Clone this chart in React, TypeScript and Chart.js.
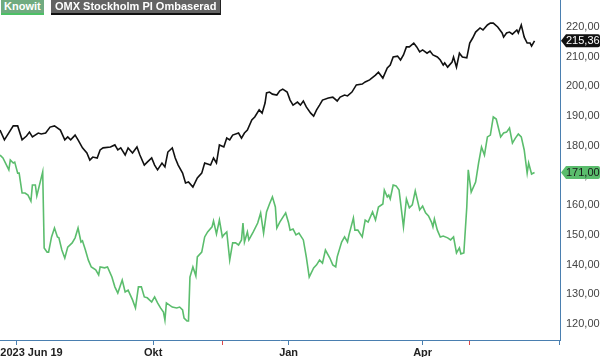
import React, { useEffect, useRef } from "react";
import { Chart, registerables } from "chart.js";

Chart.register(...registerables);

// Day offsets from 2023-06-20 (first trading day shown) and closing values
const omxDays = [0,3,9,12,15,18,20,22,26,28,31,34,37,41,44,46,48,51,53,56,59,61,63,66,68,70,75,78,80,82,85,87,90,93,95,98,100,103,105,107,110,112,114,117,119,121,124,126,128,131,134,137,139,143,145,147,149,152,154,156,158,162,164,166,168,171,173,176,178,180,181,183,185,188,190,192,195,197,199,202,204,206,208,211,213,215,217,219,223,226,229,231,234,236,239,242,246,248,251,255,257,260,263,265,267,270,272,274,276,278,281,283,285,287,290,292,294,297,299,301,302,304,307,308,310,312,314,317,319,321,323,326,328,331,333,335,338,341,342,344,346,348,351,352,354,356,358,360,361,363];
const omxValues = [185.3,182.0,186.7,186.7,182.0,183.3,184.6,183.0,184.3,184.0,184.3,186.3,186.7,185.3,182.0,183.0,182.0,183.6,182.0,179.3,177.6,175.2,176.2,175.9,178.6,179.3,179.6,180.3,178.6,179.3,176.9,179.3,177.6,179.6,176.9,173.5,174.5,175.9,173.5,171.9,174.2,172.9,177.9,179.3,175.9,173.5,170.8,167.5,167.8,166.1,169.2,170.8,174.2,173.5,175.9,174.2,180.3,179.6,182.6,182.0,183.6,184.3,182.6,184.3,185.3,188.7,189.7,192.1,191.0,194.4,197.8,198.1,197.4,197.1,198.5,199.1,198.1,195.4,193.7,194.7,193.7,195.1,193.1,191.0,190.0,192.1,193.7,195.4,196.1,196.4,195.1,196.4,197.1,196.8,198.1,200.5,200.8,201.5,202.2,203.8,204.8,202.8,206.2,207.2,209.9,210.2,208.9,210.6,213.3,213.3,214.6,213.3,211.6,212.3,211.2,211.9,210.6,209.9,208.9,207.2,207.9,206.5,208.2,209.9,206.5,211.2,209.9,209.6,214.6,216.3,218.3,219.7,219.0,220.7,221.3,221.3,220.0,218.0,216.6,218.0,218.3,217.6,219.0,218.0,220.7,216.6,214.6,214.6,213.6,215.36];

const knowitDays = [0,2,5,6,7,9,10,12,13,15,17,19,21,22,24,25,29,30,32,33,35,37,39,40,42,44,46,49,51,53,55,56,58,60,62,65,67,68,71,73,76,78,80,83,85,87,90,92,94,96,98,100,103,105,107,109,111,112,113,117,120,122,124,125,127,128,129,131,133,134,137,139,141,144,145,147,149,151,152,154,156,158,160,162,164,165,166,168,169,172,175,177,179,181,183,185,187,188,190,194,196,197,199,201,203,206,208,210,213,215,217,219,221,224,226,228,229,232,234,236,237,240,241,243,246,248,250,253,255,257,260,261,263,264,265,267,269,271,274,276,278,280,282,285,287,289,291,293,294,295,297,299,301,304,306,308,310,312,313,315,317,318,320,323,325,327,329,331,333,335,337,340,342,344,346,348,350,352,354,356,358,359,361,363];
const knowitValues = [176.9,175.9,172.9,171.9,175.2,174.2,174.5,170.8,170.8,164.1,164.1,163.4,161.4,166.8,166.8,163.1,171.2,145.6,144.2,144.2,149.3,152.3,149.3,149.0,144.9,142.2,145.9,147.3,149.0,152.3,147.6,148.0,144.9,141.5,139.2,138.2,136.5,139.2,138.9,139.2,135.8,132.5,130.4,134.8,130.8,131.4,128.1,125.4,132.5,132.5,129.1,128.8,127.4,129.1,127.1,125.4,124.0,121.3,127.1,125.7,125.4,125.7,124.7,122.0,121.0,121.0,135.8,139.2,136.2,142.6,144.2,149.3,151.0,152.7,154.7,150.3,155.0,149.3,150.0,151.0,141.5,147.3,147.3,146.6,148.3,154.0,147.6,151.0,148.3,151.0,154.0,157.4,150.6,157.7,160.4,162.8,159.4,152.3,154.3,157.4,154.0,151.6,152.0,150.0,150.6,148.3,142.6,135.8,138.9,139.9,141.5,140.5,144.9,142.2,139.9,139.2,142.6,147.6,149.3,147.6,150.0,155.7,151.6,151.6,149.3,155.0,154.3,157.7,155.0,159.4,160.4,165.1,162.8,163.4,162.1,166.8,166.5,165.1,152.7,162.1,159.1,160.1,164.8,158.4,159.7,157.4,156.4,154.3,152.7,155.4,151.6,149.3,149.6,149.0,148.3,149.3,143.9,145.6,143.6,143.9,159.4,171.9,164.4,167.8,174.2,179.6,176.9,183.0,183.6,189.7,189.0,183.0,184.3,184.6,186.0,180.9,182.6,184.0,183.0,178.6,170.8,174.2,170.5,171.0];

const seriesNames = ["Knowit", "OMX Stockholm PI Ombaserad"];
const yTickValues = [120, 130, 140, 150, 160, 170, 180, 190, 200, 210, 220];
const xTickDays = [11, 104, 151, 196, 287, 319, 380];
const xTickLabels = ["2023 Jun 19", "Okt", "", "Jan", "Apr", "", ""];
const xTickRed = [false, false, true, false, false, true, false];

const GREEN = "#5bbd6d";
const BLACK = "#111111";
const AXIS_BLUE = "#4a7fb0";
const FONT = "'Liberation Sans', Arial, sans-serif";

const fmt = (v: number) => v.toFixed(2).replace(".", ",");

const endTagPlugin = {
  id: "endTags",
  afterDraw(chart: any) {
    const ctx = chart.ctx;
    const ys = chart.scales.y;
    const left = ys.left;
    const right = chart.width;
    const styles = [
      { fill: GREEN, text: "#1b1b1b" },
      { fill: BLACK, text: "#ffffff" },
    ];
    chart.data.datasets.forEach((ds: any, i: number) => {
      const last = ds.data[ds.data.length - 1];
      const py = ys.getPixelForValue(last.y);
      const h = 13;
      ctx.save();
      ctx.beginPath();
      ctx.moveTo(left + 1, py);
      ctx.lineTo(left + 6, py - h / 2);
      ctx.lineTo(right - 2, py - h / 2);
      ctx.quadraticCurveTo(right, py - h / 2, right, py - h / 2 + 2);
      ctx.lineTo(right, py + h / 2 - 2);
      ctx.quadraticCurveTo(right, py + h / 2, right - 2, py + h / 2);
      ctx.lineTo(left + 6, py + h / 2);
      ctx.closePath();
      ctx.fillStyle = styles[i].fill;
      ctx.fill();
      ctx.fillStyle = styles[i].text;
      ctx.font = `11px ${FONT}`;
      ctx.textAlign = "left";
      ctx.textBaseline = "middle";
      ctx.fillText(fmt(last.y), left + 6, py + 0.5);
      ctx.restore();
    });
  },
};

export default function App() {
  const canvasRef = useRef<HTMLCanvasElement | null>(null);

  useEffect(() => {
    if (!canvasRef.current) return;
    const chart = new Chart(canvasRef.current, {
      type: "line",
      data: {
        datasets: [
          {
            label: seriesNames[0],
            data: knowitDays.map((d, i) => ({ x: d, y: knowitValues[i] })),
            borderColor: GREEN,
            borderWidth: 1.6,
            pointRadius: 0,
            tension: 0,
          },
          {
            label: seriesNames[1],
            data: omxDays.map((d, i) => ({ x: d, y: omxValues[i] })),
            borderColor: BLACK,
            borderWidth: 1.6,
            pointRadius: 0,
            tension: 0,
          },
        ],
      },
      options: {
        animation: false,
        responsive: false,
        maintainAspectRatio: false,
        layout: { padding: 0 },
        plugins: {
          legend: { display: false },
          tooltip: { enabled: false },
        },
        scales: {
          x: {
            type: "linear",
            min: 0,
            max: 380.3,
            afterBuildTicks: (scale: any) => {
              scale.ticks = xTickDays.map((v) => ({ value: v }));
            },
            afterFit: (scale: any) => {
              scale.height = 17;
              scale.paddingLeft = 0;
              scale.paddingRight = 0;
            },
            grid: {
              display: true,
              drawOnChartArea: false,
              drawTicks: true,
              tickLength: 5,
              tickColor: (c: any) => {
                const idx = xTickDays.indexOf(c.tick ? c.tick.value : -1);
                return idx >= 0 && xTickRed[idx] ? "#e0474c" : AXIS_BLUE;
              },
            },
            border: { display: true, color: AXIS_BLUE, width: 1 },
            ticks: {
              autoSkip: false,
              maxRotation: 0,
              minRotation: 0,
              padding: 1,
              color: "#222222",
              font: { family: FONT, size: 11, weight: "bold" },
              callback: (v: any) => {
                const idx = xTickDays.indexOf(Number(v));
                if (idx < 0) return "";
                return idx === 0 ? "          " + xTickLabels[idx] : xTickLabels[idx];
              },
            },
          },
          y: {
            type: "linear",
            position: "right",
            min: 114.6,
            max: 229.1,
            afterBuildTicks: (scale: any) => {
              scale.ticks = yTickValues.map((v) => ({ value: v }));
            },
            afterFit: (scale: any) => {
              scale.width = 40;
              scale.paddingTop = 0;
              scale.paddingBottom = 0;
            },
            grid: { display: true, drawOnChartArea: false, drawTicks: false },
            border: { display: true, color: AXIS_BLUE, width: 1 },
            ticks: {
              padding: 6,
              color: "#444444",
              font: { family: FONT, size: 11 },
              callback: (v: any) => fmt(Number(v)),
            },
          },
        },
      },
      plugins: [endTagPlugin],
    } as any);
    return () => chart.destroy();
  }, []);

  const legendBase: React.CSSProperties = {
    position: "absolute",
    top: 0,
    height: 13,
    lineHeight: "13px",
    fontFamily: FONT,
    fontWeight: "bold",
    fontSize: 11,
    color: "#ffffff",
    padding: "0 4px",
    whiteSpace: "nowrap",
  };

  return (
    <div style={{ position: "fixed", left: 0, top: 0, width: 600, height: 357, background: "#fff" }}>
      <canvas ref={canvasRef} width={600} height={357} style={{ display: "block", width: 600, height: 357 }} />
      <div style={{ ...legendBase, left: 1, padding: "0 3px", background: "#70ab80", borderBottom: "2px solid #4cc065" }}>
        {seriesNames[0]}
      </div>
      <div style={{ ...legendBase, left: 51, background: "#636363", borderBottom: "2px solid #111", boxShadow: "1px 0 0 #222" }}>
        {seriesNames[1]}
      </div>
    </div>
  );
}
